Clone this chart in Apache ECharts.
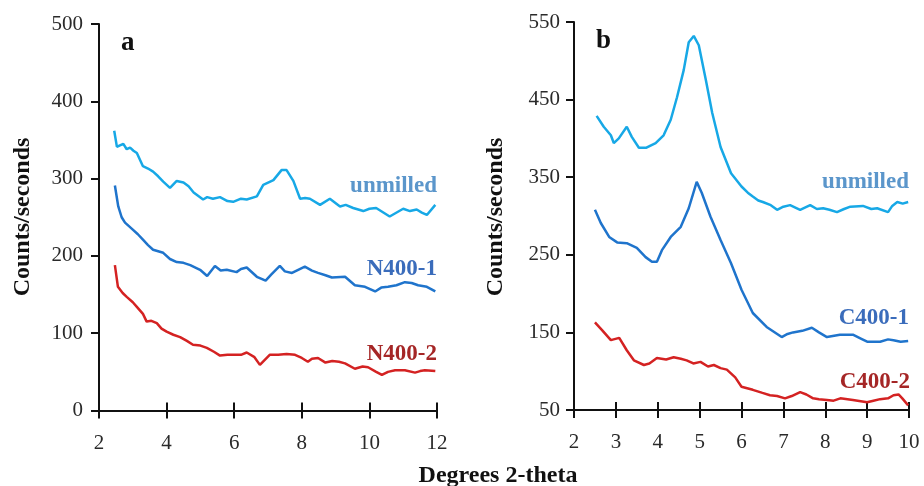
<!DOCTYPE html>
<html>
<head>
<meta charset="utf-8">
<script src="https://cdn.jsdelivr.net/npm/echarts@6/dist/echarts.min.js"></script>
<style>html,body{margin:0;padding:0;background:#fff}#c{width:924px;height:486px}</style>
</head>
<body>
<div id="c"></div>
<script>
// Panel a
var aUnmilledX = [2.45,2.53,2.62,2.72,2.82,2.92,3.02,3.12,3.3,3.45,3.6,3.75,3.9,4.1,4.3,4.5,4.65,4.8,5.08,5.2,5.37,5.58,5.8,5.97,6.2,6.37,6.67,6.86,7.16,7.4,7.55,7.75,7.95,8.1,8.24,8.54,8.83,9.13,9.3,9.52,9.82,10.0,10.2,10.6,11.0,11.2,11.4,11.55,11.7,11.95];
var aUnmilledY = [362,341,343,345,338,340,336,333,316,313,309,303,296,288,297,295,290,282,273,276,274,276,271,270,274,273,277,292,298,311,311,297,274,275,274,266,274,264,266,262,258,261,262,251,261,258,260,256,253,266];
var aN1X = [2.47,2.57,2.67,2.77,3.0,3.15,3.3,3.45,3.6,3.75,3.9,4.1,4.3,4.5,4.7,4.99,5.2,5.43,5.6,5.78,6.07,6.2,6.37,6.67,6.93,7.1,7.35,7.5,7.71,8.09,8.3,8.48,8.7,8.89,9.28,9.57,9.87,10.17,10.35,10.55,10.8,11.05,11.25,11.44,11.7,11.95];
var aN1Y = [291,264,250,243,234,228,221,214,208,206,204,196,192,191,188,182,174,187,181,182,179,183,185,173,168,176,187,180,178,186,181,178,175,172,173,162,160,154,159,160,162,166,165,162,160,154];
var aN2X = [2.47,2.56,2.7,2.82,3.0,3.12,3.3,3.41,3.55,3.71,3.85,4.0,4.2,4.4,4.6,4.78,5.0,5.19,5.4,5.58,5.8,5.97,6.2,6.37,6.6,6.76,7.05,7.3,7.55,7.8,8.0,8.18,8.3,8.48,8.7,8.9,9.1,9.28,9.57,9.8,9.96,10.2,10.37,10.55,10.76,11.05,11.35,11.5,11.64,11.95];
var aN2Y = [188,160,152,147,140,134,125,115,116,113,106,102,98,95,90,85,84,81,76,71,72,72,72,75,69,59,72,72,73,72,68,63,67,68,62,64,63,61,54,57,56,50,46,50,52,52,49,51,52,51];
// Panel b
var bUnmilledX = [2.54,2.71,2.88,2.95,3.07,3.26,3.38,3.55,3.73,3.95,4.14,4.31,4.46,4.62,4.74,4.86,4.98,5.15,5.3,5.5,5.75,6.0,6.15,6.27,6.4,6.51,6.7,6.85,7.0,7.16,7.4,7.64,7.8,7.95,8.1,8.28,8.45,8.6,8.9,9.1,9.24,9.5,9.6,9.72,9.85,9.98];
var bUnmilledY = [429,415,404,394,400,415,402,388,388,394,404,424,453,488,524,532,520,475,433,389,355,338,330,325,320,318,314,308,312,314,308,314,309,310,308,305,309,312,313,309,310,305,313,318,316,318];
var bC1X = [2.5,2.64,2.84,3.03,3.26,3.5,3.71,3.86,3.98,4.1,4.31,4.55,4.74,4.93,5.05,5.26,5.5,5.75,6.0,6.27,6.6,6.96,7.1,7.23,7.45,7.68,7.85,8.04,8.35,8.66,8.85,9.0,9.31,9.5,9.63,9.8,9.98];
var bC1Y = [308,291,273,266,265,259,247,241,241,256,273,286,310,344,330,299,269,239,205,175,157,144,148,150,152,156,150,144,147,147,142,138,138,141,140,138,139];
var bC2X = [2.5,2.67,2.88,3.08,3.26,3.43,3.67,3.8,3.98,4.2,4.38,4.55,4.69,4.85,5.02,5.2,5.34,5.5,5.65,5.85,6.0,6.27,6.5,6.68,6.85,7.04,7.2,7.4,7.55,7.71,7.85,8.04,8.2,8.36,8.66,9.0,9.15,9.31,9.5,9.63,9.75,9.84,9.98];
var bC2Y = [163,153,140,143,127,114,108,110,117,115,118,116,114,110,112,106,108,104,102,92,80,76,72,69,68,65,68,73,70,65,64,63,62,65,63,60,62,64,65,69,70,65,56];
var aTicksX = [2,4,6,8,10,12];
var aTicksY = [0,100,200,300,400,500];
var bTicksX = [2,3,4,5,6,7,8,9,10];
var bTicksY = [50,150,250,350,450,550];

function zip(xs, ys){ return xs.map(function(x,i){ return [x, ys[i]]; }); }

var FONT = '"Liberation Serif","Times New Roman",serif';
var C_UN = '#17a8e6', C_1 = '#1f74cc', C_2 = '#d42222';
var T_UN = '#5b96cb', T_1 = '#3a6cbb', T_2 = '#a52626';

function xAxisMain(grid, min, max, interval){
  return {type:'value', gridIndex:grid, min:min, max:max, interval:interval, position:'bottom',
    axisLine:{show:true, onZero:false, lineStyle:{color:'#111', width:2}},
    axisTick:{show:true, inside:false, length:8, lineStyle:{color:'#111', width:2}},
    axisLabel:{show:true, margin:22, color:'#2a2a2a', fontFamily:FONT, fontSize:21},
    splitLine:{show:false}};
}
function xAxisInner(grid, min, max, interval){
  return {type:'value', gridIndex:grid, min:min, max:max, interval:interval, position:'bottom',
    axisLine:{show:false},
    axisTick:{show:true, inside:true, length:8, lineStyle:{color:'#111', width:2}},
    axisLabel:{show:false}, splitLine:{show:false}};
}
function yAxisMain(grid, min, max, interval, margin){
  return {type:'value', gridIndex:grid, min:min, max:max, interval:interval,
    axisLine:{show:true, onZero:false, lineStyle:{color:'#111', width:2}},
    axisTick:{show:true, inside:false, length:8, lineStyle:{color:'#111', width:2}},
    axisLabel:{show:true, margin:margin, color:'#2a2a2a', fontFamily:FONT, fontSize:21},
    splitLine:{show:false}};
}
function line(xi, yi, data, color){
  return {type:'line', xAxisIndex:xi, yAxisIndex:yi, data:data, showSymbol:false, symbol:'none',
    lineStyle:{color:color, width:2.5}, silent:true, animation:false};
}

var chart = echarts.init(document.getElementById('c'), null, {renderer:'canvas'});
chart.setOption({
  animation:false,
  backgroundColor:'#fff',
  grid:[
    {left:99, right:487, top:24, bottom:75.5},
    {left:574, right:15, top:22, bottom:76}
  ],
  xAxis:[
    xAxisMain(0, aTicksX[0], aTicksX[aTicksX.length-1], 2),
    xAxisInner(0, aTicksX[0], aTicksX[aTicksX.length-1], 2),
    xAxisMain(1, bTicksX[0], bTicksX[bTicksX.length-1], 1),
    xAxisInner(1, bTicksX[0], bTicksX[bTicksX.length-1], 1)
  ],
  yAxis:[
    yAxisMain(0, aTicksY[0], aTicksY[aTicksY.length-1], 100, 16),
    yAxisMain(1, bTicksY[0], bTicksY[bTicksY.length-1], 100, 14)
  ],
  series:[
    line(0,0, zip(aUnmilledX,aUnmilledY), C_UN),
    line(0,0, zip(aN1X,aN1Y), C_1),
    line(0,0, zip(aN2X,aN2Y), C_2),
    line(2,1, zip(bUnmilledX,bUnmilledY), C_UN),
    line(2,1, zip(bC1X,bC1Y), C_1),
    line(2,1, zip(bC2X,bC2Y), C_2)
  ],
  graphic:[
    {type:'text', left:121, top:30, style:{text:'a', font:'bold 27px '+FONT, fill:'#111'}},
    {type:'text', left:596, top:28, style:{text:'b', font:'bold 27px '+FONT, fill:'#111'}},
    {type:'text', x:23, y:217, rotation:Math.PI/2, style:{text:'Counts/seconds', font:'bold 24px '+FONT, fill:'#111', align:'center', verticalAlign:'middle'}},
    {type:'text', x:496, y:217, rotation:Math.PI/2, style:{text:'Counts/seconds', font:'bold 24px '+FONT, fill:'#111', align:'center', verticalAlign:'middle'}},
    {type:'text', x:498, y:476, style:{text:'Degrees 2-theta', font:'bold 24px '+FONT, fill:'#111', align:'center', verticalAlign:'middle'}},
    {type:'text', x:437, y:186, style:{text:'unmilled', font:'bold 23px '+FONT, fill:T_UN, align:'right', verticalAlign:'middle'}},
    {type:'text', x:437, y:269, style:{text:'N400-1', font:'bold 23px '+FONT, fill:T_1, align:'right', verticalAlign:'middle'}},
    {type:'text', x:437, y:354, style:{text:'N400-2', font:'bold 23px '+FONT, fill:T_2, align:'right', verticalAlign:'middle'}},
    {type:'text', x:909, y:182, style:{text:'unmilled', font:'bold 23px '+FONT, fill:T_UN, align:'right', verticalAlign:'middle'}},
    {type:'text', x:909, y:318, style:{text:'C400-1', font:'bold 23px '+FONT, fill:T_1, align:'right', verticalAlign:'middle'}},
    {type:'text', x:910, y:382, style:{text:'C400-2', font:'bold 23px '+FONT, fill:T_2, align:'right', verticalAlign:'middle'}}
  ]
});
</script>
</body>
</html>
